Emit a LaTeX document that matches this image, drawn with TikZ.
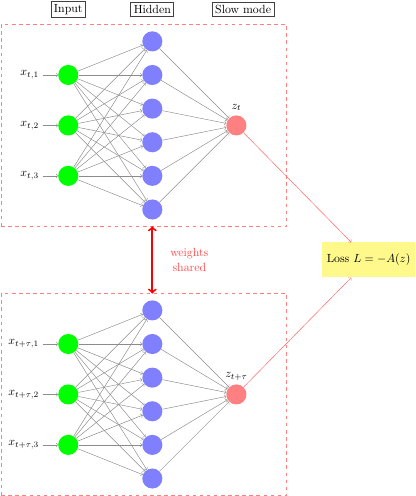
\documentclass[tikz,border=0pt]{standalone}
\usepackage{amsmath}
\usepackage{amssymb}
\begin{document}
\begin{tikzpicture}[
  neuron/.style={circle, minimum size=17pt, inner sep=0pt},
  inneuron/.style={neuron, fill=green},
  hidneuron/.style={neuron, fill=blue!50},
  outneuron/.style={neuron, fill=red!50},
  syn/.style={->, black!45},
  head/.style={draw=black!75, semithick, inner sep=2.5pt},
  netbox/.style={draw=red!50, dashed, thick},
  lossbox/.style={fill=yellow!45, inner sep=4pt, minimum height=1.04cm}
]
  \useasboundingbox (-2.03, -11.02) rectangle (10.32, 3.73);
  \node[head] (hin) at (0, 3.45) {Input};
  \node[head] (hhid) at (2.5, 3.45) {Hidden};
  \node[head] (hout) at (5.2, 3.45) {Slow mode};
  \foreach \net/\off/\sub in {a/0/t, b/-8/t+\tau} {
    \draw[netbox] (-2, \off-3) rectangle (6.5, \off+3);
    \foreach \i in {1,2,3} {
      \node[inneuron] (\net-i\i) at (0, \off+3-1.5*\i) {};
      \node[left] (\net-x\i) at (-0.75, \off+3-1.5*\i) {$x_{\sub,\i}$};
      \draw[syn] (\net-x\i) -- (\net-i\i);
    }
    \foreach \j in {1,...,6}
      \node[hidneuron] (\net-h\j) at (2.5, \off+3.5-\j) {};
    \node[outneuron, label={above:$z_{\sub}$}] (\net-o) at (5, \off) {};
    \foreach \i in {1,2,3}
      \foreach \j in {1,...,6}
        \draw[syn] (\net-i\i) -- (\net-h\j);
    \foreach \j in {1,...,6}
      \draw[syn] (\net-h\j) -- (\net-o);
  }
  \coordinate (wtop) at (2.5, -3);
  \coordinate (wbot) at (2.5, -5);
  \draw[<->, red, ultra thick] (wtop) -- (wbot);
  \node[red!70, align=center] (wlbl) at (3.6, -4) {weights\\shared};
  \node[lossbox] (loss) at (8.93, -4) {Loss $L=-A(z)$};
  \draw[->, red!60] (a-o) -- (loss);
  \draw[->, red!60] (b-o) -- (loss);
\end{tikzpicture}
\end{document}
